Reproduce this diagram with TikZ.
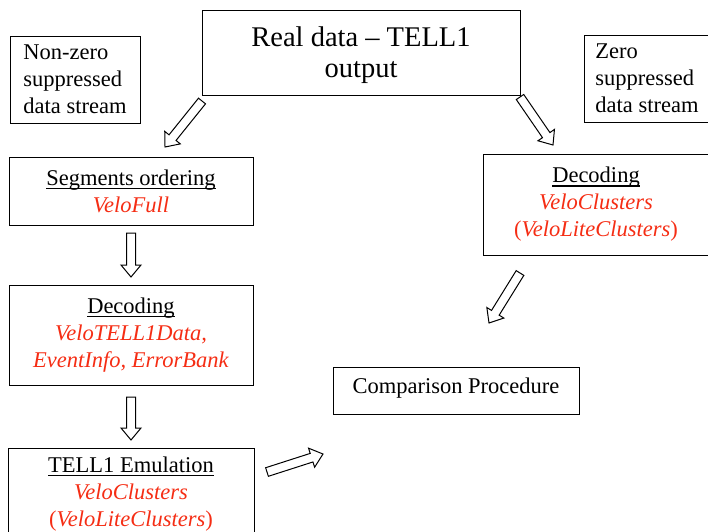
\documentclass[tikz,border=0pt]{standalone}
\usepackage{fontspec}
\setmainfont{Liberation Serif}
\definecolor{velored}{RGB}{245,45,20}
\newcommand\ulx[1]{\setbox0\hbox{#1}\rlap{\rule[-4pt]{\wd0}{1.6pt}}\box0}
\newcommand\vr[1]{\textcolor{velored}{\textit{#1}}}
\newcommand\blockarr[4]{%
  \pgfmathsetmacro\arrlen{veclen(#3-#1,#4-#2)}%
  \pgfmathsetmacro\arrang{atan2(#2-#4,#3-#1)}%
  \begin{scope}[shift={(#1,#2)},rotate=\arrang]
    \draw[blockarrow] (0,4.5) -- (\arrlen-12,4.5) -- (\arrlen-12,10) -- (\arrlen,0)
      -- (\arrlen-12,-10) -- (\arrlen-12,-4.5) -- (0,-4.5) -- cycle;
  \end{scope}}
\tikzset{
  box/.style={draw, line width=1pt, inner sep=0pt, align=center,
    font=\fontsize{22.5}{27}\selectfont},
  blockarrow/.style={draw, fill=white, line width=1pt, line join=miter}
}
\begin{document}
\begin{tikzpicture}[x=1pt,y=-1pt]
\useasboundingbox (0,0) rectangle (708,531);
\node[box, minimum width=318pt, minimum height=85pt,
  font=\fontsize{28.5}{31}\selectfont] (title) at (361,52.5) {\rule{0pt}{26pt}Real data -- TELL1\\output};
\node[box, minimum width=130pt, minimum height=87pt, align=left] (nz) at (75,79.5)
  {Non-zero\\suppressed\\data stream};
\node[box, minimum width=126pt, minimum height=87pt, align=left] (zs) at (647,78.5)
  {Zero\\suppressed\\data stream};
\node[box, minimum width=244pt, minimum height=68pt] (seg) at (131,191)
  {\ulx{Segments ordering}\\\vr{VeloFull}};
\node[box, minimum width=244pt, minimum height=100pt] (decl) at (131,335)
  {\ulx{Decoding}\\\vr{VeloTELL1Data,}\\\vr{EventInfo, ErrorBank}};
\node[box, minimum width=226pt, minimum height=101pt] (decr) at (596,204.5)
  {\ulx{Decoding}\\\vr{VeloClusters}\\\textcolor{velored}{(\textit{VeloLiteClusters})}};
\node[box, minimum width=246pt, minimum height=47pt] (comp) at (456,390.5)
  {Comparison Procedure\rule[-9pt]{0pt}{1pt}};
\node[box, minimum width=246pt, minimum height=92pt] (emu) at (131,494)
  {\ulx{TELL1 Emulation}\\\vr{VeloClusters}\\\textcolor{velored}{(\textit{VeloLiteClusters})}};
\blockarr{202}{101}{165}{147}
\blockarr{520}{97}{553}{145}
\blockarr{131}{233}{131}{277}
\blockarr{131}{397}{131}{440}
\blockarr{520}{273}{489}{323}
\blockarr{267}{472}{323}{454}
\end{tikzpicture}
\end{document}
